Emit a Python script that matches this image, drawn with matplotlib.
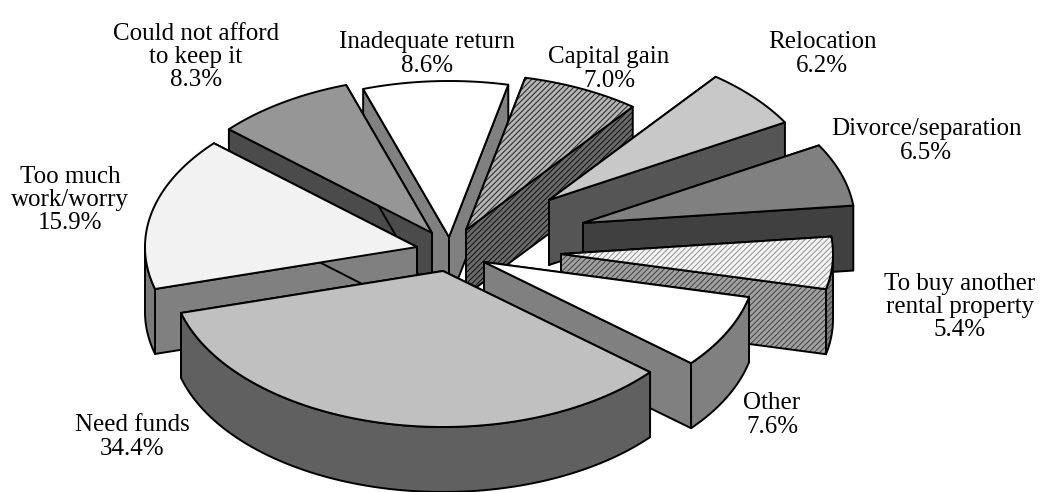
import numpy as np
import matplotlib
matplotlib.use("Agg")
import matplotlib.pyplot as plt
from matplotlib.patches import Polygon

categories = ["Inadequate return", "Capital gain", "Relocation", "Divorce/separation",
              "To buy another\nrental property", "Other", "Need funds",
              "Too much\nwork/worry", "Could not afford\nto keep it"]
values = [8.6, 7.0, 6.2, 6.5, 5.4, 7.6, 34.4, 15.9, 8.3]

# pie geometry, in pixels
cx, cy = 449, 250
rx, ry = 272, 156
depth = 65
start = -18.4
explode_x = [0, 17, 100, 134, 112, 35, -6, -32, -17]
explode_y = [-13, -20, -50, -27, 4, 12, 21, -3, -17]

# top, radial wall, rim, hatch of top, hatch of wall, hatch colour top, hatch colour wall
styles = [
    ("#ffffff", "#808080", "#808080", None, None, None, None),
    ("#b4b4b4", "#6a6a6a", "#6a6a6a", "//////", "//////", "#202020", "#101010"),
    ("#c8c8c8", "#555555", "#555555", None, None, None, None),
    ("#808080", "#404040", "#404040", None, None, None, None),
    ("#f4f4f4", "#a0a0a0", "#808080", "//////", "//////", "#909090", "#404040"),
    ("#ffffff", "#808080", "#808080", None, None, None, None),
    ("#c0c0c0", "#606060", "#606060", None, None, None, None),
    ("#f2f2f2", "#808080", "#7a7a7a", None, None, None, None),
    ("#969696", "#4b4b4b", "#4b4b4b", None, None, None, None),
]

# back to front
draw_order = [0, 8, 1, 7, 2, 3, 4, 5, 6]

# label centres
label_x = [427, 609, 822, 926, 960, 772, 132, 70, 196]
label_y = [54, 69, 54, 141, 307, 415, 437, 200, 57]

plt.rcParams['font.family'] = ['Liberation Serif', 'DejaVu Serif']
plt.rcParams['hatch.linewidth'] = 0.7

fig = plt.figure(figsize=(10.48, 4.92), dpi=100)
ax = fig.add_axes([0, 0, 1, 1])
ax.set_xlim(0, 1048)
ax.set_ylim(492, 0)
ax.axis("off")


def rim(ax0, ay0, t1, t2):
    t = np.radians(np.linspace(t1, t2, 80))
    return np.column_stack([ax0 + rx * np.sin(t), ay0 - ry * np.cos(t)])


def face(pts, color, hatch=None, hatch_color=None, z=1):
    if hatch:
        ax.add_patch(Polygon(pts, closed=True, facecolor=color, edgecolor=hatch_color,
                             hatch=hatch, linewidth=0, zorder=z))
        ax.add_patch(Polygon(pts, closed=True, fill=False, edgecolor="black",
                             linewidth=1.4, joinstyle="round", zorder=z))
    else:
        ax.add_patch(Polygon(pts, closed=True, facecolor=color, edgecolor="black",
                             linewidth=1.4, joinstyle="round", zorder=z))


total = sum(values)
edges = start + np.cumsum([0] + values) / total * 360

for n, i in enumerate(draw_order):
    t1, t2 = edges[i], edges[i + 1]
    a_x = cx + explode_x[i]
    a_y = cy + explode_y[i]
    top_c, wall_c, rim_c, h_top, h_wall, hc_top, hc_wall = styles[i]
    z = 2 + n

    arc = rim(a_x, a_y, t1, t2)
    apex = np.array([a_x, a_y])
    down = np.array([0, depth])

    # radial walls
    for end in (arc[0], arc[-1]):
        face(np.array([apex, end, end + down, apex + down]), wall_c, h_wall, hc_wall, z)

    # outer wall, only the front half shows
    lo, hi = max(t1, 90), min(t2, 270)
    if lo < hi:
        front = rim(a_x, a_y, lo, hi)
        face(np.vstack([front, (front + down)[::-1]]), rim_c, h_wall, hc_wall, z)

    face(np.vstack([apex, arc]), top_c, h_top, hc_top, z)

for name, v, x, y in zip(categories, values, label_x, label_y):
    ax.text(x, y, f"{name}\n{v:.1f}%", ha="center", va="center", fontsize=18,
            color="black", linespacing=1.08, zorder=50)

fig.savefig("out.png", dpi=100)
